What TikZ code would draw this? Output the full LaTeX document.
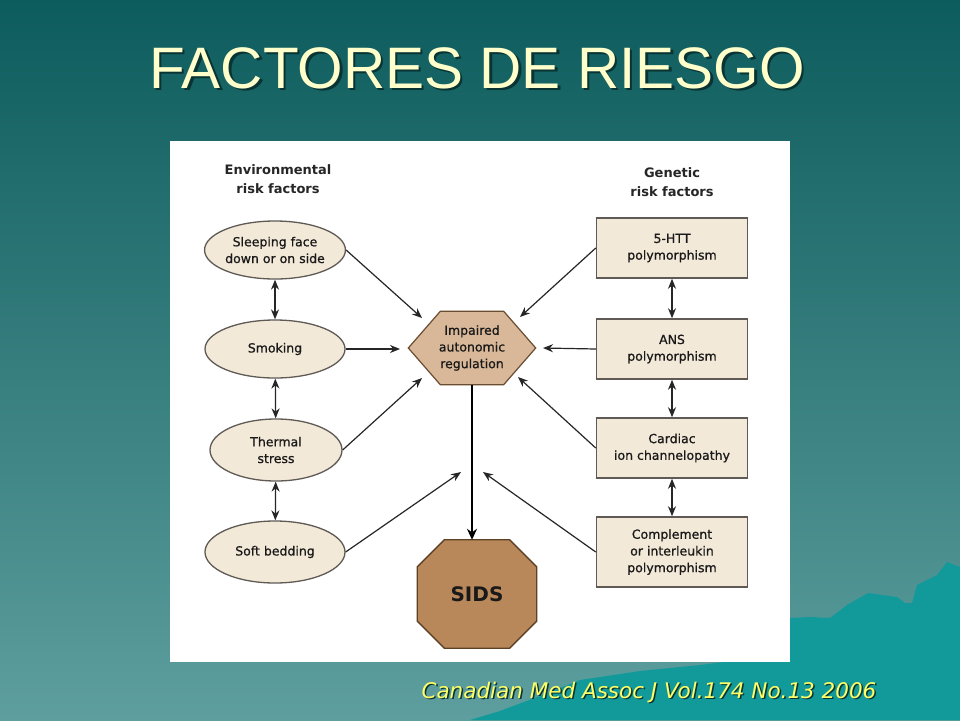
\documentclass[tikz,border=0pt]{standalone}
\usepackage{fontspec}
\usepackage{graphicx}
\usetikzlibrary{arrows.meta,shapes.geometric}
\setmainfont{DejaVu Sans}
\newfontfamily\diagfont[FakeBold=0.8]{DejaVu Sans}
\newfontfamily\titlefont{Liberation Sans}
\newfontfamily\citefont{DejaVu Sans}
\definecolor{bgtop}{HTML}{0D5C5D}
\definecolor{bgbot}{HTML}{5E9E9E}
\definecolor{mount}{HTML}{129A9A}
\definecolor{beige}{HTML}{F3E9D8}
\definecolor{ellc}{HTML}{5F5A55}
\definecolor{hexfill}{HTML}{D8B898}
\definecolor{hexline}{HTML}{6A4C30}
\definecolor{sidsfill}{HTML}{B9885A}
\definecolor{sidsline}{HTML}{5E4024}
\definecolor{titley}{HTML}{FFFFCC}
\definecolor{citey}{HTML}{FFFF66}
\definecolor{shadowc}{HTML}{0A3434}
\definecolor{arrc}{HTML}{262626}
\tikzset{
  ell/.style={ellipse, draw=ellc, fill=beige, line width=1.3pt, minimum width=140pt, minimum height=58pt, inner sep=0pt, align=center, font=\diagfont\fontsize{12.5}{16.7}\selectfont, text=black!90},
  gbox/.style={rectangle, draw=ellc, fill=beige, line width=1.5pt, minimum width=151pt, minimum height=60pt, inner sep=0pt, align=center, font=\diagfont\fontsize{12.5}{16.7}\selectfont, text=black!90},
  hdr/.style={align=center, font=\bfseries\fontsize{13}{18.5}\selectfont, text=black!85},
  arr/.style={draw=arrc, line width=1.2pt, -{Stealth[length=10pt,width=8pt]}},
  darr/.style={draw=arrc, line width=1.2pt, {Stealth[length=10pt,width=8pt]}-{Stealth[length=10pt,width=8pt]}},
}
\begin{document}
\begin{tikzpicture}[x=1pt,y=-1pt]
\useasboundingbox (0,0) rectangle (960,720);
\shade[top color=bgtop, bottom color=bgbot] (0,0) rectangle (960,720);
% mountains
\fill[mount] (470,720) -- (500,711) -- (545,694) -- (580,680) -- (640,671) -- (700,665) -- (740,660) -- (790,640)
  -- (790,618) -- (810,617) -- (830,618) -- (847,605) -- (868,593) -- (897,597) -- (905,603) -- (912,603)
  -- (917,585) -- (937,575) -- (947,562) -- (960,567) -- (960,720) -- cycle;
% white panel
\fill[white] (170,141) rectangle (790,662);
% title
\node[anchor=base, font=\titlefont\fontsize{58.5}{60}\selectfont, text=shadowc] (titleshadow) at (479.5,90.5) {FACTORES DE RIESGO};
\node[anchor=base, font=\titlefont\fontsize{58.5}{60}\selectfont, text=titley] (title) at (477,88) {FACTORES DE RIESGO};
% headers
\node[hdr] (envh) at (278,179) {Environmental\\risk factors};
\node[hdr] (genh) at (672,182) {Genetic\\risk factors};
% ellipses
\node[ell] (e1) at (275,250) {Sleeping face\\down or on side};
\node[ell] (e2) at (275,349) {Smoking};
\node[ell, minimum width=132pt, minimum height=62pt] (e3) at (276,450) {Thermal\\stress};
\node[ell, minimum height=62pt] (e4) at (275,552) {Soft bedding};
% genetic boxes
\node[gbox] (g1) at (672,248) {5-HTT\\polymorphism};
\node[gbox] (g2) at (672,349) {ANS\\polymorphism};
\node[gbox] (g3) at (672,448) {Cardiac\\ion channelopathy};
\node[gbox, minimum height=70pt] (g4) at (672,552) {Complement\\or interleukin\\polymorphism};
% hexagon
\node[minimum width=127pt, minimum height=73pt, inner sep=0pt] (hex) at (472,348) {};
\filldraw[fill=hexfill, draw=hexline, line width=1.2pt]
  (hex.west) -- ([xshift=32pt]hex.north west) -- ([xshift=-32pt]hex.north east) -- (hex.east)
  -- ([xshift=-32pt]hex.south east) -- ([xshift=32pt]hex.south west) -- cycle;
\node[align=center, font=\diagfont\fontsize{12.5}{16.7}\selectfont, text=black!90] (hextext) at (hex.center) {Impaired\\autonomic\\regulation};
% SIDS octagon
\node[minimum width=119pt, minimum height=108pt, inner sep=0pt] (sids) at (477,594) {};
\filldraw[fill=sidsfill, draw=sidsline, line width=1.3pt]
  ([xshift=27pt]sids.north west) -- ([xshift=-27pt]sids.north east) -- ([yshift=-27pt]sids.north east)
  -- ([yshift=27pt]sids.south east) -- ([xshift=-27pt]sids.south east) -- ([xshift=27pt]sids.south west)
  -- ([yshift=27pt]sids.south west) -- ([yshift=-27pt]sids.north west) -- cycle;
\node[font=\bfseries\fontsize{20}{24}\selectfont, text=black!90] (sidstext) at (sids.center) {SIDS};
% tip coordinates
\coordinate (t1) at (422,318);
\coordinate (t2) at (400,349);
\coordinate (t3) at (422,378);
\coordinate (t4) at (461,472);
\coordinate (t5) at (520,317);
\coordinate (t6) at (543,348);
\coordinate (t7) at (518,377);
\coordinate (t8) at (483,472);
% connectors
\draw[arr] (e1.east) -- (t1);
\draw[arr] (e2.east) -- (t2);
\draw[arr] (e3.east) -- (t3);
\draw[arr] (e4.east) -- (t4);
\draw[arr] (g1.west) -- (t5);
\draw[arr] (g2.west) -- (t6);
\draw[arr] (g3.west) -- (t7);
\draw[arr] (g4.west) -- (t8);
\draw[darr] (e1) -- (e2);
\draw[darr] (e2) -- (e3);
\draw[darr] (e3) -- (e4);
\draw[darr] (g1) -- (g2);
\draw[darr] (g2) -- (g3);
\draw[darr] (g3) -- (g4);
\draw[draw=black, line width=2.5pt, -{Stealth[length=11pt,width=10pt]}] (hex.south) -- (hex.south |- sids.north);
% citation
\node[anchor=base west, font=\citefont\itshape\fontsize{21.5}{24}\selectfont, text=shadowc] (citeshadow) at (419.5,699.5) {Canadian Med Assoc J Vol.174 No.13 2006};
\node[anchor=base west, font=\citefont\itshape\fontsize{21.5}{24}\selectfont, text=citey] (cite) at (418,698) {Canadian Med Assoc J Vol.174 No.13 2006};
\end{tikzpicture}
\end{document}
